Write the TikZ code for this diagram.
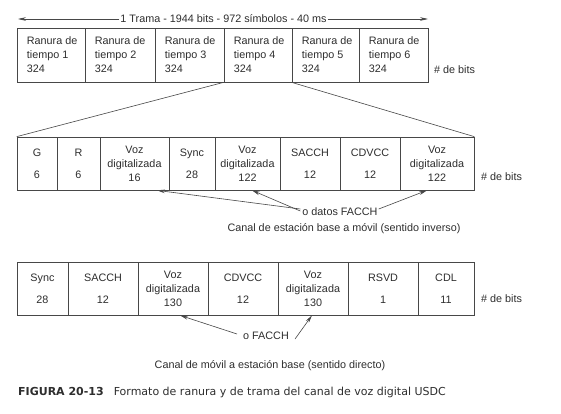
\documentclass[tikz,border=0pt]{standalone}
\usepackage{fontspec}
\setmainfont{Liberation Sans}
\newfontfamily\capfont{DejaVu Sans}
\usetikzlibrary{arrows.meta,calc}
\begin{document}
\begin{tikzpicture}[x=1pt,y=-1pt,
  every node/.style={font=\fontsize{10.8}{14}\selectfont, text=black!82},
  cell/.style={draw=black!72, line width=0.7pt, rectangle, inner sep=0pt, align=center},
  tcell/.style={cell, minimum height=54pt},
  mcell/.style={cell, minimum height=53pt},
  lbl/.style={inner sep=0pt},
  tlbl/.style={lbl, anchor=west, align=left},
  ln/.style={draw=black!72, line width=0.6pt},
  arr/.style={ln, -{Stealth[length=8pt,width=3.6pt]}}
]
\useasboundingbox (0,0) rectangle (561,413);
\fill[white] (0,0) rectangle (561,413);

% top arrow
\node[lbl, fill=white, inner xsep=1pt] (trama) at (223.5,19) {1 Trama - 1944 bits - 972 símbolos - 40 ms};
\coordinate (tl) at (18,19);
\coordinate (tr) at (428,19);
\draw[arr] (trama.west) -- (tl);
\draw[arr] (trama.east) -- (tr);

% top row
\node[tcell, minimum width=68pt] (t1) at (51,55) {};
\node[tcell, minimum width=70pt] (t2) at (120,55) {};
\node[tcell, minimum width=69pt] (t3) at (189.5,55) {};
\node[tcell, minimum width=68pt] (t4) at (258,55) {};
\node[tcell, minimum width=67pt] (t5) at (325.5,55) {};
\node[tcell, minimum width=69pt] (t6) at (393.5,55) {};
\node[tlbl] (t1l) at ([xshift=10pt]t1.west) {Ranura de\\tiempo 1\\324};
\node[tlbl] (t2l) at ([xshift=10pt]t2.west) {Ranura de\\tiempo 2\\324};
\node[tlbl] (t3l) at ([xshift=10pt]t3.west) {Ranura de\\tiempo 3\\324};
\node[tlbl] (t4l) at ([xshift=10pt]t4.west) {Ranura de\\tiempo 4\\324};
\node[tlbl] (t5l) at ([xshift=10pt]t5.west) {Ranura de\\tiempo 5\\324};
\node[tlbl] (t6l) at ([xshift=10pt]t6.west) {Ranura de\\tiempo 6\\324};
\node[lbl, anchor=west] (tb) at (434,70) {\# de bits};

% middle row
\node[mcell, minimum width=40pt] (m1) at (37,163.5) {G\\[8pt]6};
\node[mcell, minimum width=43pt] (m2) at (78.5,163.5) {R\\[8pt]6};
\node[mcell, minimum width=69pt] (m3) at (134.5,163.5) {Voz\\digitalizada\\16};
\node[mcell, minimum width=46pt] (m4) at (192,163.5) {Sync\\[8pt]28};
\node[mcell, minimum width=65pt] (m5) at (247.5,163.5) {Voz\\digitalizada\\122};
\node[mcell, minimum width=60pt] (m6) at (310,163.5) {SACCH\\[8pt]12};
\node[mcell, minimum width=60pt] (m7) at (370,163.5) {CDVCC\\[8pt]12};
\node[mcell, minimum width=74pt] (m8) at (437,163.5) {Voz\\digitalizada\\122};
\node[lbl, anchor=west] (mb) at (481,177) {\# de bits};

% fan lines
\draw[ln] (t4.south west) -- (m1.north west);
\draw[ln] (t5.south west) -- (m8.north east);

% FACCH arrows (middle)
\node[lbl] (facch1) at (340,212) {o datos FACCH};
\coordinate (fa1) at ($(facch1.west)+(-2,-3)$);
\coordinate (fa2) at ($(facch1.west)+(-2,-1)$);
\coordinate (fa3) at ($(facch1.east)+(1,-3)$);
\draw[arr] (fa1) -- ([xshift=22.5pt]m3.south);
\draw[arr] (fa2) -- ([xshift=4.5pt]m5.south);
\draw[arr] (fa3) -- ([xshift=-10pt]m8.south);

\node[lbl] (canal1) at (344,229) {Canal de estación base a móvil (sentido inverso)};

% bottom row
\node[mcell, minimum width=51pt] (b1) at (42.5,288.5) {Sync\\[8pt]28};
\node[mcell, minimum width=70pt] (b2) at (103,288.5) {SACCH\\[8pt]12};
\node[mcell, minimum width=70pt] (b3) at (173,288.5) {Voz\\digitalizada\\130};
\node[mcell, minimum width=70pt] (b4) at (243,288.5) {CDVCC\\[8pt]12};
\node[mcell, minimum width=70pt] (b5) at (313,288.5) {Voz\\digitalizada\\130};
\node[mcell, minimum width=70pt] (b6) at (383,288.5) {RSVD\\[8pt]1};
\node[mcell, minimum width=56pt] (b7) at (446,288.5) {CDL\\[8pt]11};
\node[lbl, anchor=west] (bb) at (481,299) {\# de bits};

\node[lbl] (facch2) at (266,336) {o FACCH};
\coordinate (fb1) at ($(facch2.west)+(-6,-2)$);
\coordinate (fb2) at ($(facch2.east)+(6,3)$);
\draw[arr] (fb1) -- ([xshift=7pt]b3.south);
\draw[arr] (fb2) -- ([xshift=-1pt]b5.south);

\node[lbl] (canal2) at (270,366) {Canal de móvil a estación base (sentido directo)};

% caption
\node[lbl, anchor=west, font=\capfont\fontsize{11}{13}\selectfont] (cap) at (18,392) {{\bfseries FIGURA 20-13}\hspace{10pt}Formato de ranura y de trama del canal de voz digital USDC};
\end{tikzpicture}
\end{document}
